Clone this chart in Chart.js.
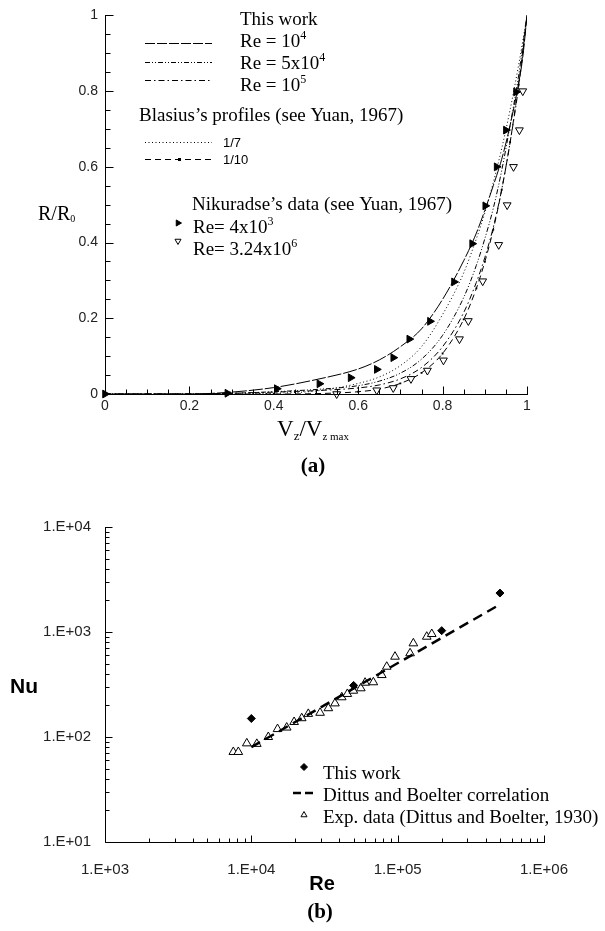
<!DOCTYPE html>
<html>
<head>
<meta charset="utf-8">
<script src="https://cdn.jsdelivr.net/npm/chart.js@4.4.1/dist/chart.umd.min.js"></script>
<style>
  html, body { margin: 0; padding: 0; background: #fff; }
  #chartA { position: absolute; left: 0; top: 0; }
  #chartB { position: absolute; left: 0; top: 480px; }
</style>
</head>
<body>
<canvas id="chartA" width="605" height="480"></canvas>
<canvas id="chartB" width="605" height="451"></canvas>
<script>
// ---- (a) velocity profiles ----
const profileX   = [0, 0.2, 0.3, 0.4, 0.5, 0.6, 0.65, 0.7, 0.75, 0.8, 0.85, 0.88, 0.9, 0.92, 0.94, 0.96, 0.98, 0.99, 1.0];
const re1e4Y     = [0, 0, 0.005, 0.017, 0.038, 0.066, 0.09, 0.125, 0.172, 0.25, 0.352, 0.425, 0.485, 0.55, 0.62, 0.71, 0.82, 0.89, 1.0];
const re5e4Y     = [0, 0, 0.002, 0.006, 0.012, 0.022, 0.034, 0.055, 0.092, 0.155, 0.255, 0.34, 0.41, 0.49, 0.59, 0.71, 0.84, 0.92, 1.0];
const re1e5Y     = [0, 0, 0.002, 0.005, 0.009, 0.016, 0.024, 0.04, 0.07, 0.125, 0.215, 0.295, 0.36, 0.44, 0.54, 0.665, 0.81, 0.9, 1.0];
const blasius7Y  = [0, 0, 0, 0.002, 0.008, 0.028, 0.045, 0.075, 0.125, 0.21, 0.32, 0.41, 0.478, 0.558, 0.648, 0.751, 0.868, 0.932, 1.0];
const blasius10Y = [0, 0, 0, 0, 0.001, 0.006, 0.013, 0.028, 0.056, 0.107, 0.197, 0.279, 0.349, 0.434, 0.539, 0.665, 0.817, 0.904, 1.0];

const nikLowX  = [0, 0.29, 0.407, 0.508, 0.582, 0.644, 0.683, 0.721, 0.770, 0.827, 0.870, 0.901, 0.928, 0.950, 0.974];
const nikLowY  = [0, 0.002, 0.014, 0.027, 0.043, 0.065, 0.096, 0.145, 0.192, 0.296, 0.397, 0.497, 0.600, 0.697, 0.798];
const nikHighX = [0.549, 0.644, 0.683, 0.725, 0.764, 0.802, 0.840, 0.861, 0.895, 0.933, 0.953, 0.968, 0.982, 0.990];
const nikHighY = [0, 0.01, 0.016, 0.04, 0.062, 0.089, 0.145, 0.193, 0.298, 0.394, 0.499, 0.600, 0.697, 0.800];

// ---- (b) Nusselt number ----
const reThisWork = [1e4, 5e4, 2e5, 5e5];
const nuThisWork = [150, 310, 1030, 2350];
const reDittus = [1e4, 5e5];
const nuDittus = [80, 1830];
const reExp = [7530, 8150, 9310, 10900, 13060, 15100, 17450, 19600, 22100, 24500, 29500, 33600, 37300,
               41500, 45300, 49800, 56000, 59900, 68200, 77900, 84200, 95900, 121600, 128000, 158000, 171000];
const nuExp = [72, 72, 87, 86, 100, 119, 123, 139, 151, 166, 170, 188, 209,
               239, 257, 276, 291, 329, 332, 389, 467, 582, 627, 780, 902, 957];
const logTicks = [1e1, 1e2, 1e3, 1e4, 1e5, 1e6];
const logTickLabels = ['1.E+01', '1.E+02', '1.E+03', '1.E+04', '1.E+05', '1.E+06'];

const SANS = '"Liberation Sans", Arial, sans-serif';
const SERIF = '"Liberation Serif", "Times New Roman", serif';

function xy(xs, ys) { return xs.map((x, i) => ({ x: x, y: ys[i] })); }

function drawRich(ctx, x, y, parts, align) {
  let w = 0;
  parts.forEach(p => { ctx.font = p.font; w += ctx.measureText(p.text).width; });
  let cx = align === 'center' ? x - w / 2 : x;
  ctx.textAlign = 'left';
  parts.forEach(p => {
    ctx.font = p.font;
    ctx.fillText(p.text, cx, y + (p.dy || 0));
    cx += ctx.measureText(p.text).width;
  });
}

function sampleLine(ctx, dash, x0, x1, y, lw) {
  ctx.save();
  ctx.setLineDash(dash || []);
  ctx.lineWidth = lw || 1;
  ctx.strokeStyle = '#000';
  ctx.beginPath();
  ctx.moveTo(x0, y);
  ctx.lineTo(x1, y);
  ctx.stroke();
  ctx.restore();
}

function marker(ctx, style, r, rot, x, y, fill) {
  ctx.save();
  ctx.fillStyle = fill;
  ctx.strokeStyle = '#000';
  ctx.lineWidth = 1;
  Chart.helpers.drawPoint(ctx, { pointStyle: style, radius: r, rotation: rot, borderWidth: 1 }, x, y);
  ctx.restore();
}

// inward ticks + axis lines
function axesPlugin(xMajor, xMinor, yMajor, yMinor, majLen, minLen) {
  return {
    id: 'axesInward',
    afterDraw(chart) {
      const ctx = chart.ctx, a = chart.chartArea;
      const sx = chart.scales.x, sy = chart.scales.y;
      const L = Math.round(a.left) + 0.5, B = Math.round(a.bottom) + 0.5;
      ctx.save();
      ctx.strokeStyle = '#000';
      ctx.lineWidth = 1;
      ctx.beginPath();
      ctx.moveTo(L, Math.round(a.top));
      ctx.lineTo(L, B);
      ctx.lineTo(Math.round(a.right) + 1, B);
      xMajor.forEach(v => { const p = Math.round(sx.getPixelForValue(v)) + 0.5; ctx.moveTo(p, B); ctx.lineTo(p, B - majLen); });
      xMinor.forEach(v => { const p = Math.round(sx.getPixelForValue(v)) + 0.5; ctx.moveTo(p, B); ctx.lineTo(p, B - minLen); });
      yMajor.forEach(v => { const p = Math.round(sy.getPixelForValue(v)) + 0.5; ctx.moveTo(L, p); ctx.lineTo(L + majLen, p); });
      yMinor.forEach(v => { const p = Math.round(sy.getPixelForValue(v)) + 0.5; ctx.moveTo(L, p); ctx.lineTo(L + minLen, p); });
      ctx.stroke();
      ctx.restore();
    }
  };
}

// ----- chart (a) -----
const linMajor = [], linMinor = [];
for (let i = 0; i <= 20; i++) { (i % 4 === 0 ? linMajor : linMinor).push(i * 0.05); }

const dashRe1e4 = [14, 2];
const dashRe5e4 = [5, 2, 1, 2, 1, 2];
const dashRe1e5 = [6, 3, 1.5, 3];
const dash7 = [1, 2.5];
const dash10 = [6, 4];

const legendA = {
  id: 'legendA',
  afterDraw(chart) {
    const ctx = chart.ctx;
    const big = '19px ' + SERIF, sup = '12px ' + SERIF, small = '13px ' + SANS;
    ctx.save();
    ctx.fillStyle = '#000';
    ctx.textBaseline = 'alphabetic';
    drawRich(ctx, 240, 25, [{ text: 'This work', font: big }]);
    sampleLine(ctx, [10, 2], 145, 212, 43.5);
    drawRich(ctx, 240, 47, [{ text: 'Re = 10', font: big }, { text: '4', font: sup, dy: -8 }]);
    sampleLine(ctx, dashRe5e4, 145, 212, 62.5);
    drawRich(ctx, 240, 69, [{ text: 'Re = 5x10', font: big }, { text: '4', font: sup, dy: -8 }]);
    sampleLine(ctx, dashRe1e5, 145, 212, 80.5);
    drawRich(ctx, 240, 91, [{ text: 'Re = 10', font: big }, { text: '5', font: sup, dy: -8 }]);
    drawRich(ctx, 139, 121, [{ text: 'Blasius\u2019s profiles (see Yuan, 1967)', font: big }]);
    sampleLine(ctx, dash7, 145, 212, 142.5);
    drawRich(ctx, 223, 147, [{ text: '1/7', font: small }]);
    sampleLine(ctx, dash10, 145, 212, 159.5);
    ctx.fillRect(178, 158, 3, 3);
    drawRich(ctx, 223, 164, [{ text: '1/10', font: small }]);
    drawRich(ctx, 192, 210, [{ text: 'Nikuradse\u2019s data (see Yuan, 1967)', font: big }]);
    marker(ctx, 'triangle', 3.5, 90, 178, 223, '#000');
    drawRich(ctx, 193, 233, [{ text: 'Re= 4x10', font: big }, { text: '3', font: sup, dy: -8 }]);
    marker(ctx, 'triangle', 3.5, 180, 178, 241, '#fff');
    drawRich(ctx, 193, 255, [{ text: 'Re= 3.24x10', font: big }, { text: '6', font: sup, dy: -8 }]);
    // axis titles
    drawRich(ctx, 38, 220, [{ text: 'R/R', font: '20px ' + SERIF }, { text: '0', font: '10px ' + SERIF, dy: 2 }]);
    drawRich(ctx, 313, 436, [
      { text: 'V', font: '23px ' + SERIF }, { text: 'z', font: '13px ' + SERIF, dy: 4 },
      { text: '/V', font: '23px ' + SERIF }, { text: 'z max', font: '11px ' + SERIF, dy: 4 }
    ], 'center');
    drawRich(ctx, 313, 472, [{ text: '(a)', font: 'bold 21px ' + SERIF }], 'center');
    ctx.restore();
  }
};

function curve(label, ys, dash, extra) {
  return Object.assign({
    label: label, data: xy(profileX, ys), showLine: true, borderColor: '#000', borderWidth: 1,
    borderDash: dash, pointRadius: 0, fill: false, cubicInterpolationMode: 'monotone'
  }, extra || {});
}

function plainNum(v) { return String(Math.round(v * 100) / 100); }

new Chart(document.getElementById('chartA'), {
  type: 'scatter',
  data: {
    datasets: [
      { label: 'Re= 4x10^3', data: xy(nikLowX, nikLowY), pointStyle: 'triangle', rotation: 90, pointRadius: 4.5,
        backgroundColor: '#000', borderColor: '#000', borderWidth: 1, clip: false },
      { label: 'Re= 3.24x10^6', data: xy(nikHighX, nikHighY), pointStyle: 'triangle', rotation: 180, pointRadius: 4.5,
        backgroundColor: '#fff', borderColor: '#000', borderWidth: 1, clip: false },
      curve('Re = 10^4', re1e4Y, dashRe1e4),
      curve('Re = 5x10^4', re5e4Y, dashRe5e4),
      curve('Re = 10^5', re1e5Y, dashRe1e5),
      curve('1/7', blasius7Y, dash7),
      curve('1/10', blasius10Y, dash10, { pointRadius: 1.3, pointStyle: 'rect', backgroundColor: '#000', pointBorderWidth: 0 })
    ]
  },
  options: {
    responsive: false,
    animation: false,
    layout: { padding: { left: 0, top: 12, right: 78, bottom: 0 } },
    plugins: { legend: { display: false }, tooltip: { enabled: false } },
    scales: {
      x: {
        type: 'linear', min: 0, max: 1,
        grid: { display: false, drawTicks: false }, border: { display: false },
        ticks: { stepSize: 0.2, padding: 4, color: '#222', font: { family: SANS, size: 14 }, callback: plainNum },
        afterFit: s => { s.height = 86; }
      },
      y: {
        type: 'linear', min: 0, max: 1,
        grid: { display: false, drawTicks: false }, border: { display: false },
        ticks: { stepSize: 0.2, padding: 7, color: '#222', font: { family: SANS, size: 14 }, callback: plainNum },
        afterFit: s => { s.width = 105; }
      }
    }
  },
  plugins: [axesPlugin(linMajor, linMinor, linMajor, linMinor, 8, 5), legendA]
});

// ----- chart (b) -----
const xMajorB = [1e3, 1e4, 1e5, 1e6], yMajorB = [1e1, 1e2, 1e3, 1e4];
const xMinorB = [], yMinorB = [];
[1e3, 1e4, 1e5].forEach(d => { for (let m = 2; m <= 9; m++) xMinorB.push(m * d); });
[1e1, 1e2, 1e3].forEach(d => { for (let m = 2; m <= 9; m++) yMinorB.push(m * d); });

const dashDittus = [10, 6];

const legendB = {
  id: 'legendB',
  afterDraw(chart) {
    const ctx = chart.ctx;
    const big = '19px ' + SERIF;
    ctx.save();
    ctx.fillStyle = '#000';
    marker(ctx, 'rectRot', 3.5, 0, 304, 287, '#000');
    drawRich(ctx, 323, 299, [{ text: 'This work', font: big }]);
    sampleLine(ctx, [8, 4], 293, 317, 313, 2.5);
    drawRich(ctx, 323, 321, [{ text: 'Dittus and Boelter correlation', font: big }]);
    marker(ctx, 'triangle', 3.5, 0, 304, 335, '#fff');
    drawRich(ctx, 323, 343, [{ text: 'Exp. data (Dittus and Boelter, 1930)', font: big }]);
    drawRich(ctx, 10, 213, [{ text: 'Nu', font: 'bold 21px ' + SANS }]);
    drawRich(ctx, 322, 410, [{ text: 'Re', font: 'bold 20px ' + SANS }], 'center');
    drawRich(ctx, 320, 438, [{ text: '(b)', font: 'bold 21px ' + SERIF }], 'center');
    ctx.restore();
  }
};

function decadeTicks(s) { s.ticks = logTicks.filter(v => v >= s.min && v <= s.max).map(v => ({ value: v })); }
function decadeLabel(v) { return logTickLabels[logTicks.indexOf(v)]; }

new Chart(document.getElementById('chartB'), {
  type: 'scatter',
  data: {
    datasets: [
      { label: 'This work', data: xy(reThisWork, nuThisWork), pointStyle: 'rectRot', pointRadius: 4,
        backgroundColor: '#000', borderColor: '#000', borderWidth: 1 },
      { label: 'Dittus and Boelter correlation', data: xy(reDittus, nuDittus), showLine: true, pointRadius: 0,
        borderColor: '#000', borderWidth: 2.5, borderDash: dashDittus },
      { label: 'Exp. data (Dittus and Boelter, 1930)', data: xy(reExp, nuExp), pointStyle: 'triangle', pointRadius: 5,
        backgroundColor: '#fff', borderColor: '#000', borderWidth: 1 }
    ]
  },
  options: {
    responsive: false,
    animation: false,
    layout: { padding: { left: 0, top: 47, right: 61, bottom: 0 } },
    plugins: { legend: { display: false }, tooltip: { enabled: false } },
    scales: {
      x: {
        type: 'logarithmic', min: 1e3, max: 1e6,
        grid: { display: false, drawTicks: false }, border: { display: false },
        afterBuildTicks: decadeTicks,
        ticks: { autoSkip: false, maxRotation: 0, padding: 19, color: '#222', font: { family: SANS, size: 15 }, callback: decadeLabel },
        afterFit: s => { s.height = 89; }
      },
      y: {
        type: 'logarithmic', min: 1e1, max: 1e4,
        grid: { display: false, drawTicks: false }, border: { display: false },
        afterBuildTicks: decadeTicks,
        ticks: { autoSkip: false, padding: 14, color: '#222', font: { family: SANS, size: 15 }, callback: decadeLabel },
        afterFit: s => { s.width = 105; }
      }
    }
  },
  plugins: [axesPlugin(xMajorB, xMinorB, yMajorB, yMinorB, 7, 4), legendB]
});
</script>
</body>
</html>
